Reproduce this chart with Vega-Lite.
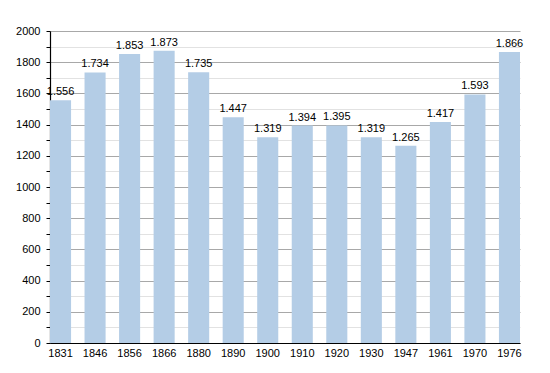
{
  "$schema": "https://vega.github.io/schema/vega-lite/v6.json",
  "width": 470,
  "height": 312,
  "autosize": {"type": "none"},
  "padding": {"left": 50, "top": 31, "right": 30, "bottom": 30},
  "background": "white",
  "config": {
    "view": {"stroke": null},
    "font": "Liberation Sans",
    "locale": {"number": {"decimal": ",", "thousands": ".", "grouping": [3], "currency": ["", ""]}}
  },
  "data": {
    "values": [
      {"year": "1831", "pop": 1556},
      {"year": "1846", "pop": 1734},
      {"year": "1856", "pop": 1853},
      {"year": "1866", "pop": 1873},
      {"year": "1880", "pop": 1735},
      {"year": "1890", "pop": 1447},
      {"year": "1900", "pop": 1319},
      {"year": "1910", "pop": 1394},
      {"year": "1920", "pop": 1395},
      {"year": "1930", "pop": 1319},
      {"year": "1947", "pop": 1265},
      {"year": "1961", "pop": 1417},
      {"year": "1970", "pop": 1593},
      {"year": "1976", "pop": 1866}
    ]
  },
  "encoding": {
    "x": {
      "field": "year", "type": "nominal", "sort": null,
      "scale": {"paddingInner": 0.39, "paddingOuter": 0},
      "axis": {"title": null, "labelAngle": 0, "ticks": false, "domainColor": "black", "domainWidth": 1.2, "labelFontSize": 11, "labelColor": "black", "labelPadding": 4}
    },
    "y": {
      "field": "pop", "type": "quantitative",
      "scale": {"domain": [0, 2000], "nice": false},
      "axis": {
        "title": null,
        "values": [0,100,200,300,400,500,600,700,800,900,1000,1100,1200,1300,1400,1500,1600,1700,1800,1900,2000],
        "format": "d",
        "labelExpr": "datum.value % 200 === 0 ? datum.label : ''",
        "gridColor": {"condition": {"test": "datum.value % 200 === 0", "value": "#a8a8a8"}, "value": "#e2e2e2"},
        "tickColor": "black",
        "tickSize": 4,
        "domainColor": "black",
        "domainWidth": 1.2,
        "labelFontSize": 11,
        "labelColor": "black",
        "labelPadding": 6
      }
    }
  },
  "layer": [
    {"mark": {"type": "bar", "color": "#b4cde6"}},
    {
      "mark": {"type": "text", "baseline": "bottom", "dy": -3, "fontSize": 11, "color": "black"},
      "encoding": {"text": {"field": "pop", "type": "quantitative", "format": ",d"}}
    }
  ]
}
